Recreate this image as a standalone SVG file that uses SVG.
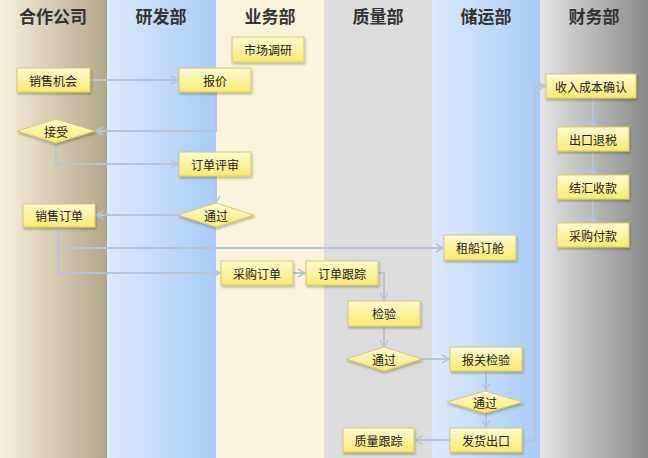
<svg xmlns="http://www.w3.org/2000/svg" width="648" height="458" viewBox="0 0 648 458">
<style>
.h{font-family:"Noto Sans CJK SC",sans-serif;font-size:17px;font-weight:bold;fill:#333;text-anchor:middle}
.t{font-family:"Noto Sans CJK SC",sans-serif;font-size:12px;fill:#222;text-anchor:middle;dominant-baseline:central}
.n{fill:url(#ny);stroke:#d8c870;stroke-width:1;filter:url(#sh)}
.c{fill:none;stroke:#b8c4d6;stroke-width:2;marker-end:url(#ar)}
</style>
<defs>
<linearGradient id="g1" x1="0" x2="1"><stop offset="0" stop-color="#f6f0dc"/><stop offset="1" stop-color="#b3a68a"/></linearGradient>
<linearGradient id="g2" x1="0" x2="1"><stop offset="0" stop-color="#dceafc"/><stop offset="1" stop-color="#a9cbf5"/></linearGradient>
<linearGradient id="g6" x1="0" x2="1"><stop offset="0" stop-color="#e4e4e4"/><stop offset="1" stop-color="#8a8a8a"/></linearGradient>
<linearGradient id="ny" x1="0" y1="0" x2="0" y2="1"><stop offset="0" stop-color="#fffbd0"/><stop offset="1" stop-color="#f8ea70"/></linearGradient>
<filter id="sh" x="-20%" y="-20%" width="140%" height="150%"><feDropShadow dx="1" dy="2" stdDeviation="0.8" flood-color="#000" flood-opacity="0.25"/></filter>
<marker id="ar" markerWidth="10" markerHeight="10" refX="8" refY="5" orient="auto" markerUnits="userSpaceOnUse"><path d="M1,1 L8,5 L1,9" fill="none" stroke="#b8c4d6" stroke-width="1.5"/></marker>
</defs>
<g id="lanes">
<rect x="0" y="0" width="107" height="458" fill="url(#g1)"/>
<rect x="107" y="0" width="109" height="458" fill="url(#g2)"/>
<rect x="216" y="0" width="108" height="458" fill="#fbf4dc"/>
<rect x="324" y="0" width="108" height="458" fill="#dcdcdc"/>
<rect x="432" y="0" width="108" height="458" fill="url(#g2)"/>
<rect x="540" y="0" width="108" height="458" fill="url(#g6)"/>
<text class="h" x="53" y="23">合作公司</text>
<text class="h" x="161" y="23">研发部</text>
<text class="h" x="270" y="23">业务部</text>
<text class="h" x="378" y="23">质量部</text>
<text class="h" x="486" y="23">储运部</text>
<text class="h" x="594" y="23">财务部</text>
</g>
<g id="connectors">
<path class="c" d="M90,80 H178"/>
<path class="c" d="M216,92 V131 H96"/>
<path class="c" d="M56,142 V164 H178"/>
<path class="c" d="M216,176 V203"/>
<path class="c" d="M178,215 H96"/>
<path class="c" d="M58,227 V248 H443"/>
<path class="c" d="M58,248 V273 H220"/>
<path class="c" d="M293,273 H305"/>
<path class="c" d="M378,273 H384 V300"/>
<path class="c" d="M384,326 V347"/>
<path class="c" d="M422,359 H449"/>
<path class="c" d="M486,371 V390"/>
<path class="c" d="M486,413 V427"/>
<path class="c" d="M450,440 H415"/>
<path class="c" d="M522,440 H535 V86 H545"/>
<path class="c" d="M593,98 V126"/>
<path class="c" d="M593,151 V174"/>
<path class="c" d="M593,199 V222"/>
</g>
<g id="n1"><rect class="n" x="232" y="37" width="72" height="25"/><text class="t" x="268" y="49.5">市场调研</text></g>
<g id="n2"><rect class="n" x="17" y="68" width="73" height="24"/><text class="t" x="53" y="80">销售机会</text></g>
<g id="n3"><rect class="n" x="179" y="68" width="72" height="24"/><text class="t" x="215" y="80">报价</text></g>
<g id="n4"><polygon class="n" points="17,131 56,119 95,131 56,143"/><text class="t" x="56" y="131">接受</text></g>
<g id="n5"><rect class="n" x="179" y="152" width="72" height="24"/><text class="t" x="215" y="164">订单评审</text></g>
<g id="n6"><polygon class="n" points="178,215 216,203 254,215 216,227"/><text class="t" x="216" y="215">通过</text></g>
<g id="n7"><rect class="n" x="23" y="204" width="72" height="23"/><text class="t" x="59" y="215.5">销售订单</text></g>
<g id="n8"><rect class="n" x="444" y="235" width="72" height="25"/><text class="t" x="480" y="247.5">租船订舱</text></g>
<g id="n9"><rect class="n" x="221" y="261" width="72" height="24"/><text class="t" x="257" y="273">采购订单</text></g>
<g id="n10"><rect class="n" x="306" y="261" width="72" height="24"/><text class="t" x="342" y="273">订单跟踪</text></g>
<g id="n11"><rect class="n" x="348" y="301" width="72" height="25"/><text class="t" x="384" y="313.5">检验</text></g>
<g id="n12"><polygon class="n" points="346,359 384,347 422,359 384,371"/><text class="t" x="384" y="359">通过</text></g>
<g id="n13"><rect class="n" x="450" y="347" width="72" height="24"/><text class="t" x="486" y="359">报关检验</text></g>
<g id="n14"><polygon class="n" points="447,402 485,391 523,402 485,413"/><text class="t" x="485" y="402">通过</text></g>
<g id="n15"><rect class="n" x="343" y="428" width="71" height="24"/><text class="t" x="378.5" y="440">质量跟踪</text></g>
<g id="n16"><rect class="n" x="450" y="428" width="72" height="24"/><text class="t" x="486" y="440">发货出口</text></g>
<g id="n17"><rect class="n" x="546" y="74" width="90" height="24"/><text class="t" x="591" y="86">收入成本确认</text></g>
<g id="n18"><rect class="n" x="557" y="127" width="72" height="24"/><text class="t" x="593" y="139">出口退税</text></g>
<g id="n19"><rect class="n" x="557" y="175" width="72" height="24"/><text class="t" x="593" y="187">结汇收款</text></g>
<g id="n20"><rect class="n" x="557" y="223" width="72" height="24"/><text class="t" x="593" y="235">采购付款</text></g>
</svg>
